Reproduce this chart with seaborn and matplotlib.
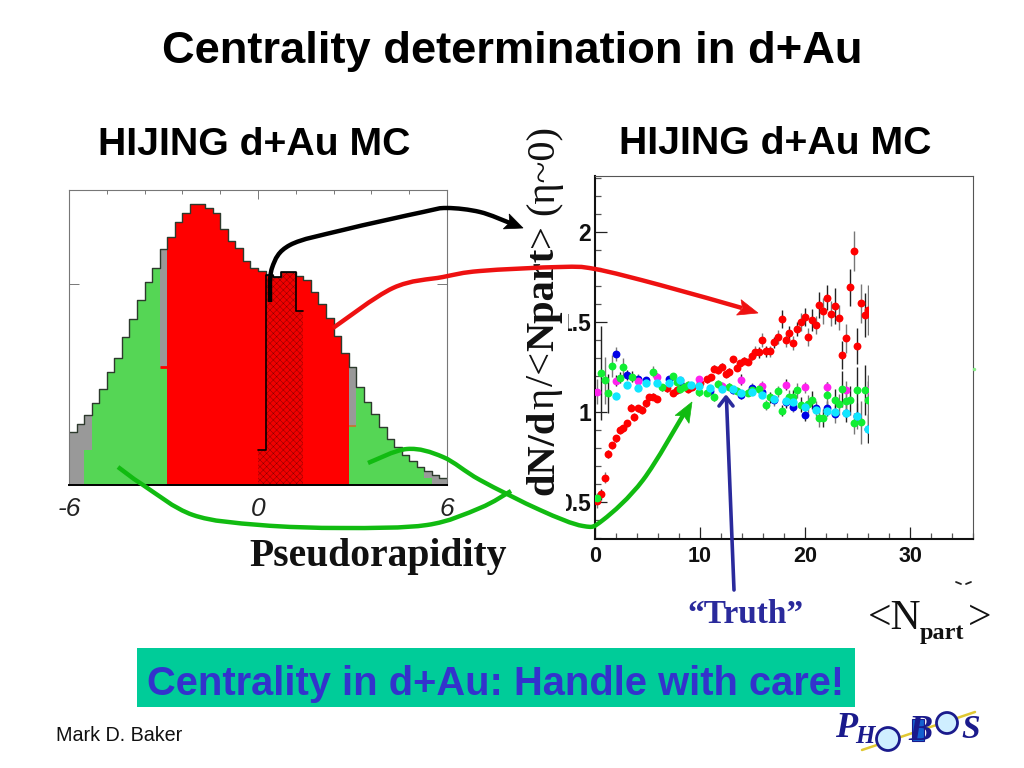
import matplotlib
matplotlib.use("Agg")
import matplotlib.pyplot as plt
import numpy as np
import pandas as pd
import seaborn as sns
from matplotlib.patches import Circle, PathPatch, Polygon, Rectangle
from matplotlib.path import Path

sns.set_theme(style="white")
plt.rcParams["font.family"] = ["Liberation Sans", "DejaVu Sans"]
plt.rcParams["hatch.linewidth"] = 0.3

SERIF = ["Liberation Serif", "DejaVu Serif"]
W, H = 1024, 768

# left panel: pseudorapidity histogram, 50 bins from -6 to 6
eta_edges = np.linspace(-6, 6, 51)
all_counts = [2.66, 3.02, 3.49, 4.10, 4.77, 5.61, 6.31, 7.39, 8.26, 9.22,
              10.10, 10.80, 11.76, 12.38, 13.12, 13.54, 14.02, 14.00, 13.80, 13.57,
              12.74, 12.18, 11.79, 11.16, 10.80, 10.65, 10.47, 10.38, 10.60, 10.60,
              10.43, 10.22, 9.60, 9.02, 8.31, 7.44, 6.59, 5.90, 4.90, 4.12,
              3.52, 2.87, 2.28, 1.88, 1.51, 1.21, 0.91, 0.71, 0.48, 0.33]
green_counts = [0, 0, 1.74, 4.10, 4.77, 5.61, 6.31, 7.39, 8.26, 9.22,
                10.10, 10.80, 5.90, 0, 0, 0, 0, 0, 0, 0,
                0, 0, 0, 0, 0, 0, 0, 0, 0, 0,
                0, 0, 0, 0, 0, 0, 0, 2.96, 4.90, 4.12,
                3.52, 2.87, 2.28, 1.88, 1.51, 1.21, 0.91, 0.33, 0, 0]
truth_counts = [1.74, 10.47, 10.38, 10.60, 10.60, 8.69]
truth_first_bin = 25
red_first_bin, red_last_bin = 13, 36

# right panel: dN/deta/<Npart> against <Npart>
red_x = [0.22, 0.54, 0.92, 1.27, 1.65, 1.97, 2.35, 2.70, 3.01, 3.39, 3.74, 4.12, 4.50, 4.85, 5.17, 5.55, 5.93,
         6.82, 7.39, 7.77, 8.82, 9.20, 9.99, 10.62, 11.01, 11.32, 11.70, 12.05, 12.43, 12.75, 13.13, 13.48,
         13.83, 14.18, 14.59, 14.91, 15.26, 15.64, 15.95, 16.33, 16.71, 17.09, 17.41, 17.82, 18.17, 18.52,
         18.87, 19.28, 19.60, 20.01, 20.33, 20.71, 21.03, 21.38, 21.76, 22.07, 22.49, 22.84, 23.22, 23.56,
         23.95, 24.26, 24.64, 24.99, 25.37, 25.69, 26.00]
red_y = [0.508, 0.545, 0.637, 0.768, 0.816, 0.855, 0.901, 0.910, 0.938, 1.025, 0.973, 1.021, 1.012, 1.049, 1.082, 1.086, 1.075,
         1.132, 1.108, 1.123, 1.127, 1.141, 1.160, 1.182, 1.193, 1.241, 1.234, 1.252, 1.212, 1.223, 1.293, 1.248,
         1.271, 1.285, 1.280, 1.311, 1.335, 1.333, 1.400, 1.339, 1.339, 1.387, 1.418, 1.516, 1.400, 1.437,
         1.385, 1.461, 1.503, 1.529, 1.418, 1.511, 1.485, 1.594, 1.561, 1.635, 1.546, 1.588, 1.524, 1.317,
         1.409, 1.692, 1.893, 1.369, 1.603, 1.539, 1.566]
red_err = [0.04, 0.03, 0.03, 0.02, 0.02, 0.02, 0.02, 0.02, 0.02, 0.02, 0.02, 0.02, 0.02, 0.02, 0.02, 0.02, 0.02,
           0.02, 0.02, 0.02, 0.02, 0.02, 0.02, 0.02, 0.02, 0.02, 0.02, 0.02, 0.02, 0.02, 0.02, 0.02,
           0.02, 0.02, 0.02, 0.02, 0.03, 0.03, 0.04, 0.03, 0.03, 0.03, 0.04, 0.05, 0.04, 0.04,
           0.04, 0.04, 0.05, 0.05, 0.05, 0.06, 0.05, 0.07, 0.07, 0.07, 0.07, 0.10, 0.07, 0.08,
           0.08, 0.105, 0.11, 0.10, 0.11, 0.12, 0.14]

blue_x = [1.97, 3.01, 4.12, 4.85, 7.04, 8.09, 9.10, 10.97, 13.16, 13.89, 14.94, 15.95, 17.09, 18.17, 18.87,
          20.01, 21.03, 22.07, 22.84, 23.95, 24.99, 26.04]
blue_y = [1.322, 1.206, 1.182, 1.178, 1.182, 1.160, 1.141, 1.119, 1.123, 1.093, 1.132, 1.114, 1.067, 1.054, 1.030,
          0.984, 1.021, 1.021, 0.988, 0.994, 0.979, 0.909]
blue_err = [0.04, 0.03, 0.03, 0.02, 0.02, 0.02, 0.02, 0.02, 0.02, 0.02, 0.03, 0.03, 0.03, 0.03, 0.03,
            0.03, 0.04, 0.04, 0.05, 0.05, 0.07, 0.08]

magenta_x = [0.22, 1.97, 4.12, 5.93, 8.09, 9.86, 12.05, 13.89, 15.95, 18.17, 20.01, 22.07, 23.95, 26.04]
magenta_y = [1.114, 1.175, 1.175, 1.197, 1.178, 1.182, 1.147, 1.180, 1.143, 1.152, 1.139, 1.139, 1.123, 1.123]
magenta_err = [0.07, 0.03, 0.02, 0.02, 0.02, 0.02, 0.02, 0.03, 0.03, 0.03, 0.03, 0.03, 0.05, 0.05]

green_x = [0.22, 0.54, 0.92, 1.27, 1.65, 2.35, 2.70, 3.49, 5.55, 6.34, 7.39, 7.77, 8.09, 8.47, 8.82, 9.86, 10.62,
           11.32, 11.70, 12.75, 13.48, 14.59, 14.91, 15.64, 16.33, 16.71, 17.41, 17.82, 18.52, 18.87, 19.28, 19.60,
           20.33, 20.71, 21.38, 21.76, 22.07, 22.84, 23.22, 23.56, 23.95, 24.26, 24.64, 24.99, 25.37, 25.69, 26.04]
green_y = [0.522, 1.219, 1.176, 1.104, 1.258, 1.191, 1.252, 1.197, 1.224, 1.138, 1.200, 1.169, 1.127, 1.141, 1.151, 1.110, 1.108,
           1.082, 1.156, 1.141, 1.119, 1.108, 1.123, 1.130, 1.040, 1.082, 1.115, 1.008, 1.086, 1.086, 1.121, 1.042,
           1.043, 1.067, 0.966, 0.966, 1.095, 1.067, 1.043, 1.127, 1.062, 1.067, 0.938, 1.123, 0.944, 1.123, 1.067]
green_err = [0.03, 0.26, 0.13, 0.11, 0.06, 0.03, 0.05, 0.03, 0.03, 0.02, 0.02, 0.02, 0.02, 0.02, 0.02, 0.02, 0.02,
             0.02, 0.02, 0.02, 0.02, 0.02, 0.02, 0.02, 0.03, 0.03, 0.03, 0.03, 0.04, 0.04, 0.04, 0.04,
             0.05, 0.05, 0.05, 0.05, 0.07, 0.06, 0.06, 0.10, 0.08, 0.08, 0.06, 0.13, 0.12, 0.14, 0.14]

cyan_x = [1.97, 3.01, 4.12, 4.85, 5.93, 7.04, 8.09, 9.10, 9.86, 10.97, 12.05, 13.16, 13.89, 14.94, 15.95, 17.09,
          18.17, 18.87, 20.01, 21.03, 22.07, 22.84, 23.95, 24.99, 26.04]
cyan_y = [1.091, 1.149, 1.136, 1.163, 1.163, 1.160, 1.178, 1.151, 1.147, 1.132, 1.127, 1.128, 1.104, 1.114, 1.097, 1.073,
          1.064, 1.054, 1.027, 1.012, 1.008, 1.003, 0.994, 0.979, 0.909]

x_major = [0, 10, 20, 30]
y_major = [0.5, 1, 1.5, 2]
y_labels = ["0.5", "1", "1.5", "2"]

# rotated axis title of the right panel, bottom to top: text, weight
ylabel_parts = [("dN/d", "bold"), ("η", "normal"), ("/<", "normal"), ("Npart", "bold"), (">", "normal"),
                ("(η~0)", "normal")]


def px_axes(x0, y0, x1, y1):
    return fig.add_axes([x0 / W, 1 - y1 / H, (x1 - x0) / W, (y1 - y0) / H])


def hist_layer(ax, heights, first=0, **kws):
    heights = np.asarray(heights, dtype=float)
    edges = eta_edges[first:first + len(heights) + 1]
    sns.histplot(x=(edges[:-1] + edges[1:]) / 2, weights=heights, bins=list(edges),
                 element="step", ax=ax, legend=False, **kws)


def curve(ov, pts, color, lw=3.0):
    """Smooth line through pixel points (Catmull-Rom turned into beziers)."""
    pts = np.array(pts, dtype=float)
    p = np.vstack([pts[0], pts, pts[-1]])
    verts = [pts[0]]
    codes = [Path.MOVETO]
    for i in range(1, len(p) - 2):
        verts += [p[i] + (p[i + 1] - p[i - 1]) / 6, p[i + 1] - (p[i + 2] - p[i]) / 6, p[i + 1]]
        codes += [Path.CURVE4] * 3
    ov.add_patch(PathPatch(Path(verts, codes), fc="none", ec=color, lw=lw, capstyle="butt", zorder=6))


def head(ov, tail, tip, color, length=20, width=9):
    tail, tip = np.array(tail, float), np.array(tip, float)
    d = (tip - tail) / np.hypot(*(tip - tail))
    n = np.array([-d[1], d[0]])
    ov.add_patch(Polygon([tip, tip - d * length + n * width, tip - d * length * 0.8, tip - d * length - n * width],
                         fc=color, ec=color, lw=0.5, zorder=7))


fig = plt.figure(figsize=(W / 100, H / 100), dpi=100, facecolor="white")

# ---- left histogram ----
ax1 = px_axes(69, 190, 447, 485)
hist_layer(ax1, all_counts, color="#999999", alpha=1, linewidth=0)
hist_layer(ax1, green_counts, color="#55d655", alpha=1, linewidth=0)
hist_layer(ax1, all_counts, fill=False, color="#2d3a2d", linewidth=1.0)
hist_layer(ax1, all_counts[red_first_bin:red_last_bin + 1], first=red_first_bin, color="#ff0000", alpha=1, linewidth=0)
ax1.hlines(green_counts[12], eta_edges[12], eta_edges[13], color="#ff0000", lw=2)
ax1.hlines(green_counts[37], eta_edges[37], eta_edges[38], color="#c87030", lw=1.2)
hist_layer(ax1, truth_counts, first=truth_first_bin, color="#f00000", alpha=1, edgecolor="#800000", linewidth=0)
ax1.collections[-1].set_hatch("xxxxx")
hist_layer(ax1, truth_counts, first=truth_first_bin, fill=False, color="black", linewidth=1.2)
ax1.set_xlim(-6, 6)
ax1.set_ylim(0, 14.7)
ax1.set_xlabel("")
ax1.set_ylabel("")
ax1.set_xticks(np.linspace(-6, 6, 11))
ax1.set_xticklabels(["-6", "", "", "", "", "0", "", "", "", "", "6"], fontsize=19, style="italic", color="#222222")
ax1.set_yticks([10])
ax1.set_yticklabels([""])
ax1.tick_params(axis="x", bottom=False, top=True, direction="in", length=2.6, width=0.7, color="#777777", pad=9)
ax1.tick_params(axis="y", left=True, right=True, direction="in", length=7, width=0.7, color="#777777")
ax1.xaxis.get_major_ticks()[5].tick2line.set_markersize(6.5)
for side in ["left", "right", "top"]:
    ax1.spines[side].set_color("#777777")
    ax1.spines[side].set_linewidth(0.8)
ax1.spines["bottom"].set_color("black")
ax1.spines["bottom"].set_linewidth(1.4)

# ---- right scatter ----
ax2 = px_axes(595, 176, 973, 539)
series = [("#0000e6", blue_x, blue_y, blue_err, 32),
          ("#ff0000", red_x, red_y, red_err, 32),
          ("#ff22ee", magenta_x, magenta_y, magenta_err, 32),
          ("#11ee33", green_x, green_y, green_err, 32),
          ("#11e6ff", cyan_x, cyan_y, None, 36)]
for i, (color, xs, ys, errs, size) in enumerate(series):
    df = pd.DataFrame({"npart": xs, "dndeta": ys})
    if errs is not None:
        df["err"] = errs
        bar_col = ["#222222" if j % 2 else "#777777" for j in range(len(df))]
        ax2.vlines(df["npart"], df["dndeta"] - df["err"], df["dndeta"] + df["err"],
                   colors=bar_col, lw=1.0, zorder=2 + i * 0.1)
    sns.scatterplot(data=df, x="npart", y="dndeta", color=color, s=size, linewidth=0, ax=ax2, zorder=3 + i * 0.1)
ax2.axvspan(26.08, 27.2, ymin=0.1, ymax=0.95, color="white", lw=0, zorder=4)
ax2.set_xlim(0, 36)
ax2.set_ylim(0.297, 2.31)
ax2.set_xlabel("")
ax2.set_ylabel("")
ax2.set_xticks(x_major)
ax2.set_xticklabels([str(v) for v in x_major], fontsize=15.5, fontweight="bold", color="#111111")
ax2.set_xticks(np.arange(0, 37, 2), minor=True)
ax2.set_yticks(y_major)
ax2.set_yticklabels(y_labels, fontsize=16.5, fontweight="bold", color="#111111")
ax2.set_yticks(np.arange(0.3, 2.31, 0.1), minor=True)
ax2.tick_params(which="major", direction="in", length=8.5, width=0.9, color="#222222", left=True, bottom=True, pad=3)
ax2.tick_params(axis="x", which="major", pad=5)
ax2.tick_params(which="minor", direction="in", length=4.3, width=0.9, color="#555555", left=True, bottom=True)
for side, lw, col in [("left", 1.5, "#111111"), ("bottom", 1.5, "#111111"),
                      ("right", 0.8, "#555555"), ("top", 0.8, "#555555")]:
    ax2.spines[side].set_linewidth(lw)
    ax2.spines[side].set_color(col)

# ---- overlay in pixel coordinates ----
ov = fig.add_axes([0, 0, 1, 1], zorder=5)
ov.set_xlim(0, W)
ov.set_ylim(H, 0)
ov.axis("off")
ov.patch.set_alpha(0)
# the rotated title's box hides the left part of the 0.5 and 1.5 tick labels
ov.add_patch(Rectangle((512, 125), 50, 365, fc="white", ec="none", zorder=1))
ov.add_patch(Rectangle((512, 300), 56, 40, fc="white", ec="none", zorder=1))
ov.add_patch(Rectangle((512, 490), 53.5, 25, fc="white", ec="none", zorder=1))

ov.text(512, 63, "Centrality determination in d+Au", fontsize=32.6, fontweight="bold", ha="center", va="baseline", color="black")
ov.text(254.5, 155, "HIJING d+Au MC", fontsize=28.3, fontweight="bold", ha="center", va="baseline", color="black")
ov.text(775, 154, "HIJING d+Au MC", fontsize=28.3, fontweight="bold", ha="center", va="baseline", color="black")

renderer = fig.canvas.get_renderer()
ylabel_y = 495.0
for part, weight in ylabel_parts:
    if part.startswith("("):
        ylabel_y -= 8
    t = ov.text(562, ylabel_y, part, fontsize=29.2, fontweight=weight, family=SERIF, rotation=90, ha="left", va="bottom",
                rotation_mode="anchor", color="#111111", zorder=3)
    ylabel_y -= t.get_window_extent(renderer).height + 1

ov.text(378.5, 566, "Pseudorapidity", fontsize=28.5, fontweight="bold", family=SERIF, ha="center", va="baseline", color="#111111")
ov.text(745, 623, "“Truth”", fontsize=24, fontweight="bold", family=SERIF, ha="center", va="baseline", color="#2a2a9c")
ov.text(868, 629, "<N", fontsize=30, family=SERIF, ha="left", va="baseline", color="#111111")
ov.text(920, 639, "part", fontsize=17.5, family=SERIF, fontweight="bold", ha="left", va="baseline", color="#111111")
ov.text(968, 629, ">", fontsize=30, family=SERIF, ha="left", va="baseline", color="#111111")
ov.add_patch(Rectangle((137, 648), 718, 59, fc="#00cc99", ec="none", zorder=1))
ov.text(496, 695, "Centrality in d+Au: Handle with care!", fontsize=28.7, fontweight="bold", ha="center", va="baseline",
        color="#3333cc", zorder=2)
ov.text(56, 741, "Mark D. Baker", fontsize=14.2, ha="left", va="baseline", color="#111111")

curve(ov, [(270, 302), (272, 268), (290, 245), (343, 230), (423, 212), (447, 208), (480, 212), (510, 223)], "black", 3.2)
head(ov, (495, 217), (523, 228), "black", 18, 8)
curve(ov, [(333, 328), (393, 288), (443, 277), (480, 271), (560, 267), (595, 269), (660, 285), (742, 308)], "#ee1111", 3.2)
head(ov, (700, 296), (758, 313), "#ee1111", 20, 8)
curve(ov, [(118, 467), (143, 485), (193, 515), (260, 525), (343, 528), (427, 525), (480, 508), (511, 491)], "#11bb11", 3.2)
curve(ov, [(368, 463), (407, 449), (443, 457), (480, 480), (540, 510), (583, 526), (603, 520), (643, 480), (685, 412)],
      "#11bb11", 3.2)
head(ov, (660, 458), (692, 402), "#11bb11", 20, 8)
ov.plot([734, 726.5], [590, 400], color="#2a2a9c", lw=2.6, zorder=6)
ov.plot([719, 726, 733], [406, 397, 406], color="#2a2a9c", lw=2.6, zorder=6)

# stray marks in the reference
ov.plot([956, 961], [582, 584], color="#222222", lw=1.3)
ov.plot([966, 971], [584, 582], color="#222222", lw=1.3)
ov.plot([973.5], [369], marker="o", ms=2.5, color="#88ee88", mew=0, zorder=6)

# logo
ov.plot([862, 975], [750, 712], color="#e0c832", lw=1.8, zorder=2)
for cx, cy, r in [(888, 739, 11.5), (947, 723, 10.5)]:
    ov.add_patch(Circle((cx, cy), r, fc="#cfeeff", ec="#1a1a8c", lw=2.0, zorder=3))
ov.add_patch(Rectangle((912, 719), 12, 22, fc="#1560d0", ec="#1a1a8c", lw=0.8, zorder=3))
for ch, lx, ly, fs in [("P", 846, 737, 26), ("H", 865, 743, 18), ("B", 920, 740, 26), ("S", 971, 738, 24)]:
    ov.text(lx, ly, ch, fontsize=fs, family=SERIF, style="italic", fontweight="bold", ha="center", va="baseline",
            color="#1a1a8c", zorder=4)

fig.savefig("out.png", dpi=100)
